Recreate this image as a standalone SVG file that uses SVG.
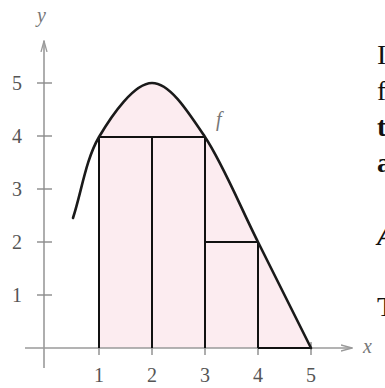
<svg xmlns="http://www.w3.org/2000/svg" width="385" height="388" viewBox="0 0 385 388">
<defs>
<style>
.axis{stroke:#9a9a9a;stroke-width:1.6;fill:none}
.tick{stroke:#8a8a8a;stroke-width:1.4}
.lbl{font-family:"Liberation Serif",serif;font-size:20px;fill:#555;text-anchor:middle}
.var{font-family:"Liberation Serif",serif;font-style:italic;font-size:20px;fill:#777}
.rect{stroke:#111;stroke-width:2;fill:none}
.curve{stroke:#1a1a1a;stroke-width:2.6;fill:none;stroke-linecap:round}
.side{font-family:"Liberation Serif",serif;font-size:28px;fill:#111}
</style>
<marker id="arr" viewBox="0 0 12 8" refX="11" refY="4" markerWidth="12" markerHeight="8" markerUnits="userSpaceOnUse" orient="auto">
<path d="M0,1 L11,4 L0,7" fill="none" stroke="#9a9a9a" stroke-width="1.3"/>
</marker>
</defs>
<rect width="385" height="388" fill="#fff"/>
<g id="region">
<path d="M99,348 L99,137 C112.2,114.5 134.3,83 152,83 C169.7,83 187.3,110.5 205,137 C222.7,163.5 240.3,206.8 258,242 C275.7,277.2 293.3,312.7 311,348 Z" fill="#fcecf0"/>
</g>
<g id="axes">
<line class="axis" x1="44" y1="368" x2="44" y2="41" marker-end="url(#arr)"/>
<line class="axis" x1="25" y1="348" x2="352" y2="348" marker-end="url(#arr)"/>
<g class="tick">
<line x1="37" y1="83" x2="52" y2="83"/>
<line x1="37" y1="136" x2="52" y2="136"/>
<line x1="37" y1="189" x2="52" y2="189"/>
<line x1="37" y1="242" x2="52" y2="242"/>
<line x1="37" y1="295" x2="52" y2="295"/>
<line x1="99" y1="342" x2="99" y2="355"/>
<line x1="152" y1="342" x2="152" y2="355"/>
<line x1="205" y1="342" x2="205" y2="355"/>
<line x1="258" y1="342" x2="258" y2="355"/>
<line x1="311" y1="342" x2="311" y2="355"/>
</g>
<text class="var" x="37" y="22">y</text>
<text class="var" x="363" y="353">x</text>
<text class="lbl" x="17" y="90">5</text>
<text class="lbl" x="17" y="143">4</text>
<text class="lbl" x="17" y="196">3</text>
<text class="lbl" x="17" y="249">2</text>
<text class="lbl" x="17" y="302">1</text>
<text class="lbl" x="99" y="382">1</text>
<text class="lbl" x="152" y="382">2</text>
<text class="lbl" x="205" y="382">3</text>
<text class="lbl" x="258" y="382">4</text>
<text class="lbl" x="311" y="382">5</text>
</g>
<g id="rectangles">
<polyline class="rect" points="99,348 99,137 205,137 205,348"/>
<line class="rect" x1="152" y1="137" x2="152" y2="348"/>
<polyline class="rect" points="205,242 258,242 258,348"/>
<line class="rect" x1="258" y1="348" x2="311" y2="348"/>
</g>
<g id="curve">
<path class="curve" d="M73,218 C81.7,191 85.8,159.5 99,137 C112.2,114.5 134.3,83 152,83 C169.7,83 187.3,110.5 205,137 C222.7,163.5 240.3,206.8 258,242 C275.7,277.2 293.3,312.7 311,348"/>
<text class="var" x="216" y="126" font-size="22">f</text>
</g>
<g id="sidetext">
<text class="side" x="377" y="64">I</text>
<text class="side" x="377" y="100">f</text>
<text class="side" x="377" y="136" font-weight="bold">t</text>
<text class="side" x="377" y="172" font-weight="bold">a</text>
<text class="side" x="377" y="245" font-weight="bold" font-style="italic">A</text>
<text class="side" x="377" y="316">T</text>
</g>
</svg>
